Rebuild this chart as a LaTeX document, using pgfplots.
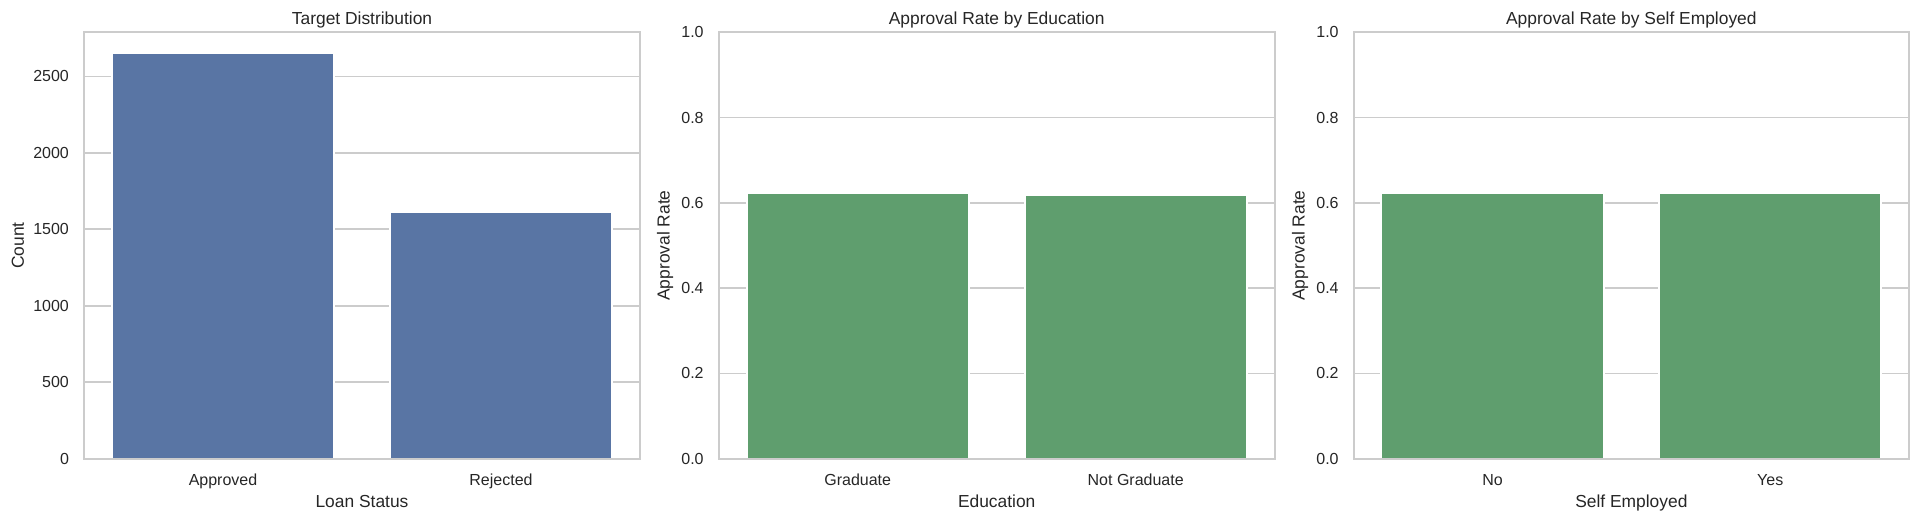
\documentclass[border=0pt]{standalone}
\usepackage{pgfplots}
\pgfplotsset{compat=1.18}
\usepackage{fontspec}
\setmainfont{Liberation Sans}
\definecolor{txt}{HTML}{262626}
\definecolor{gridc}{HTML}{CCCCCC}
\definecolor{barblue}{HTML}{5975A4}
\definecolor{bargreen}{HTML}{5F9E6E}
\pgfplotsset{
 every axis title/.style={},
 sbstyle/.style={
  scale only axis, width=278pt, height=213.2pt, anchor=south west,
  axis line style={gridc, line width=1pt},
  xmin=-0.5, xmax=1.5, ymin=0,
  xtick={0,1},
  major tick length=0pt,
  ymajorgrids, grid style={gridc, line width=0.9pt},
  /pgf/number format/assume math mode=true,
  tick label style={font=\fontsize{8}{9.6}\selectfont, text=txt},
  xticklabel style={anchor=base, inner sep=0pt, yshift=-13.65pt},
  yticklabel style={anchor=east, inner sep=0pt, xshift=-7.35pt},
  label style={font=\fontsize{8.7}{10.4}\selectfont, text=txt},
  xlabel style={at={(axis description cs:0.5,-0.11562)}, anchor=base, inner sep=0pt},
  title style={at={(axis description cs:0.5,1.01876)}, anchor=base, inner sep=0pt, font=\fontsize{8.7}{10.4}\selectfont, text=txt},
  ybar, bar width=0.8,
 },
 ratestyle/.style={
  ymax=1, ytick={0,0.2,0.4,0.6,0.8,1.0},
  yticklabel style={/pgf/number format/fixed, /pgf/number format/fixed zerofill, /pgf/number format/precision=1},
  ylabel={Approval Rate},
  ylabel style={at={(axis description cs:-0.09658,0.5)}, anchor=center, inner sep=0pt},
 }
}
\begin{document}
\begin{tikzpicture}
\useasboundingbox (0,0) rectangle (960pt,261pt);
% Axis 1
\begin{axis}[sbstyle, at={(42pt,31.65pt)},
  ymax=2789, ytick={0,500,1000,1500,2000,2500},
  scaled y ticks=false,
  yticklabel style={/pgf/number format/set thousands separator={}},
  xticklabels={Approved,Rejected},
  xlabel={Loan Status}, ylabel={Count},
  ylabel style={at={(axis description cs:-0.11871,0.5)}, anchor=center, inner sep=0pt},
  title={Target Distribution}]
\addplot[fill=barblue, draw=white, line width=1pt] coordinates {(0,2656) (1,1613)};
\draw[gridc, line width=1pt] (rel axis cs:0,0) rectangle (rel axis cs:1,1);
\end{axis}
% Axis 2
\begin{axis}[sbstyle, ratestyle, at={(359.35pt,31.65pt)},
  xticklabels={Graduate,Not Graduate},
  xlabel={Education},
  title={Approval Rate by Education}]
\addplot[fill=bargreen, draw=white, line width=1pt] coordinates {(0,0.624) (1,0.619)};
\draw[gridc, line width=1pt] (rel axis cs:0,0) rectangle (rel axis cs:1,1);
\end{axis}
% Axis 3
\begin{axis}[sbstyle, ratestyle, at={(676.85pt,31.65pt)}, width=277.65pt,
  xticklabels={No,Yes},
  xlabel={Self Employed},
  title={Approval Rate by Self Employed}]
\addplot[fill=bargreen, draw=white, line width=1pt] coordinates {(0,0.622) (1,0.622)};
\draw[gridc, line width=1pt] (rel axis cs:0,0) rectangle (rel axis cs:1,1);
\end{axis}
\end{tikzpicture}
\end{document}
